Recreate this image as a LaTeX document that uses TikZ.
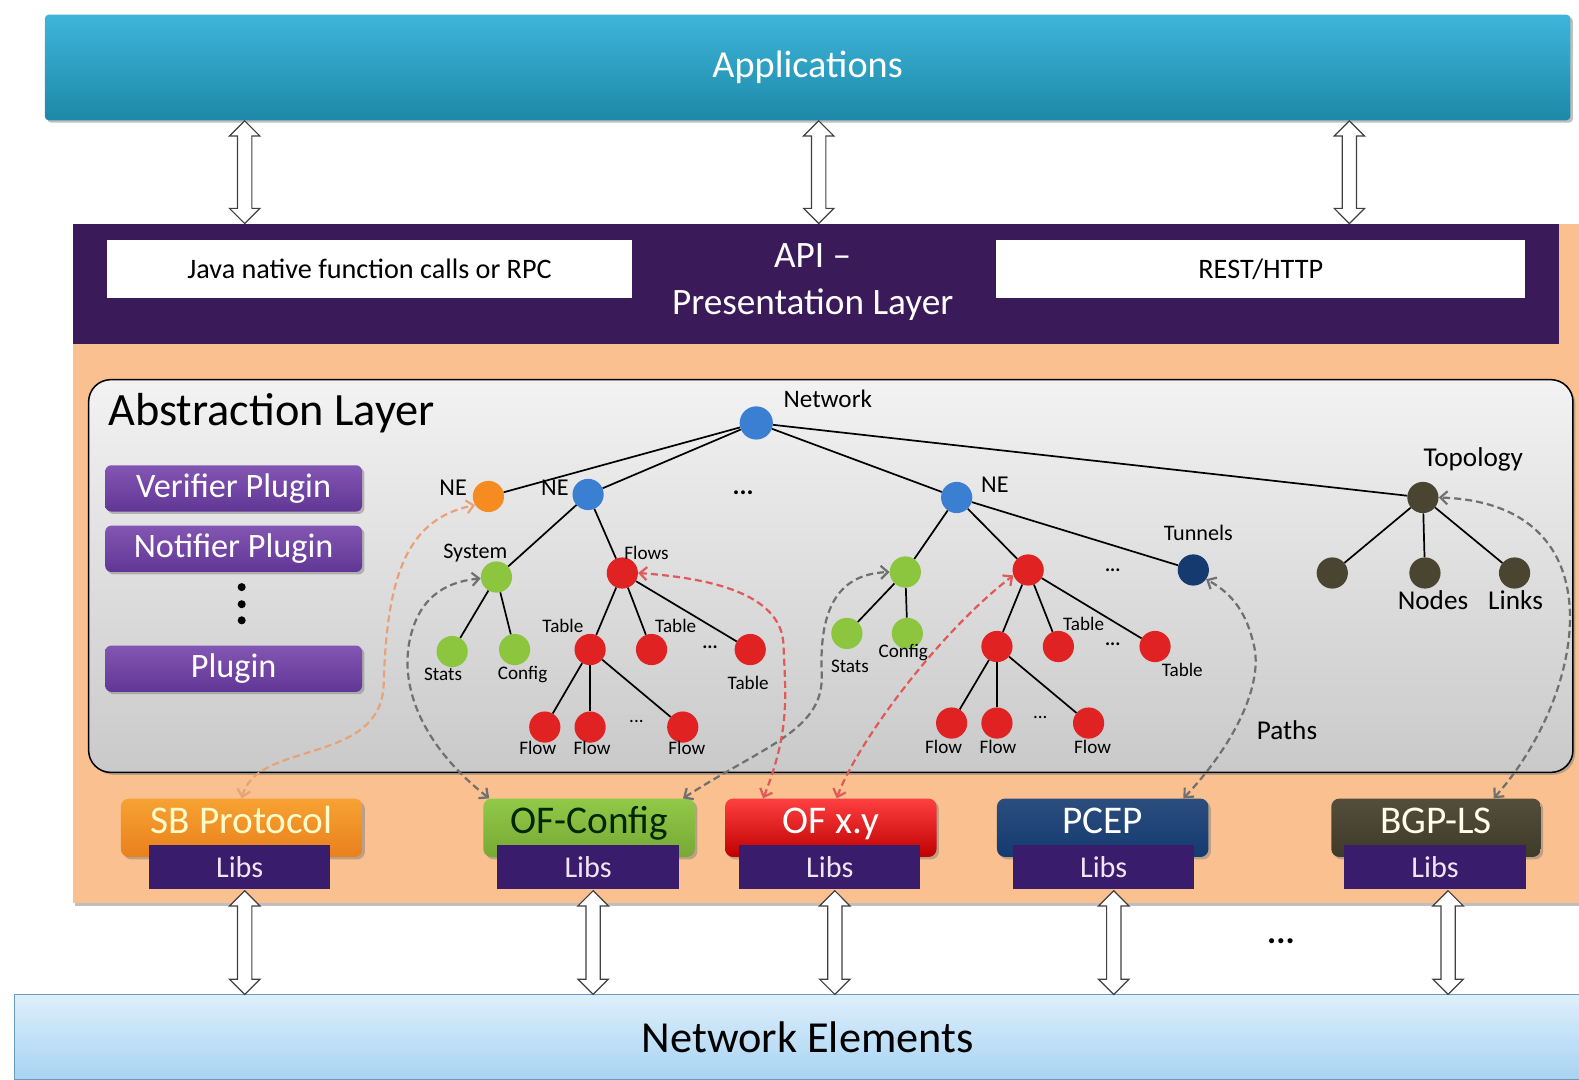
\documentclass[tikz,border=0pt]{standalone}
\usepackage{fontspec}
\setmainfont{Carlito}
\usetikzlibrary{shapes.arrows,shadows,arrows.meta}

\definecolor{appsTop}{HTML}{3DB6DA}
\definecolor{appsBot}{HTML}{1E88A8}
\definecolor{apiPurple}{HTML}{3B1A5A}
\definecolor{peach}{HTML}{FAC08F}
\definecolor{libPurple}{HTML}{3A1C6C}
\definecolor{plugTop}{HTML}{8456B4}
\definecolor{plugBot}{HTML}{603694}
\definecolor{neBlue}{HTML}{3A7FD2}
\definecolor{neOrange}{HTML}{F68B22}
\definecolor{sysGreen}{HTML}{8CC63E}
\definecolor{flowRed}{HTML}{E02222}
\definecolor{tunBlue}{HTML}{143A70}
\definecolor{topoDark}{HTML}{4A4530}
\definecolor{elemTop}{HTML}{DDEFFC}
\definecolor{elemBot}{HTML}{A8D3F3}
\definecolor{elemLine}{HTML}{6A9BBF}
\definecolor{linkGray}{HTML}{707070}
\definecolor{linkRed}{HTML}{E05A5A}
\definecolor{linkOrange}{HTML}{E8A27A}
\definecolor{sbTop}{HTML}{F7A233}
\definecolor{sbBot}{HTML}{E9801C}

\begin{document}
\begin{tikzpicture}[x=1pt,y=-1pt,
        lbl/.style={font=\fontsize{19}{20}\selectfont,inner sep=0pt},
        biglbl/.style={font=\fontsize{24}{24}\selectfont,inner sep=0pt},
        dot/.style={circle,minimum size=31pt,inner sep=0pt},
        edge/.style={line width=1.7pt},
        dbl/.style={double arrow,draw=black!75,line width=1.2pt,fill=white,
            rotate=90,inner sep=0pt,text height=13pt,text depth=0pt,
            double arrow head extend=8pt},
        plug/.style={rounded corners=6pt,top color=plugTop,bottom color=plugBot,
            minimum width=255pt,minimum height=46pt,text=white,
            font=\fontsize{34}{34}\selectfont,drop shadow},
        proto/.style={rounded corners=8pt,minimum height=58pt,
            text height=26pt,text depth=14pt,
            font=\fontsize{39}{39}\selectfont,drop shadow},
        libs/.style={fill=libPurple,minimum width=180pt,minimum height=44pt,
            text=white!90!violet,font=\fontsize{30}{30}\selectfont},
        link/.style={line width=2.2pt,dash pattern=on 7pt off 4pt,<->,
            >={Straight Barb[length=7pt,width=13pt]}}]
\useasboundingbox (0,0) rectangle (1568,1072);

% layers
\node[rounded corners=4pt,top color=appsTop,bottom color=appsBot,
    minimum width=1515pt,minimum height=105pt,drop shadow,text=white,
    font=\fontsize{38}{38}\selectfont] (app) at (802,67) {Applications};
\node[fill=peach,minimum width=1520pt,minimum height=675pt,drop shadow]
    (ctl) at (832,559.5) {};
\node[fill=apiPurple,minimum width=1476pt,minimum height=120pt] (api) at (810,282) {};
\node[fill=white,minimum width=522pt,minimum height=58pt,
    font=\fontsize{28}{28}\selectfont] (jni) at (367,267) {Java native function calls or RPC};
\node[fill=white,minimum width=525pt,minimum height=58pt,
    font=\fontsize{28}{28}\selectfont] (rest) at (1252,267) {REST/HTTP};
\node[text=white,align=center,font=\fontsize{37}{46}\selectfont]
    (apitxt) at (807,280) {API --\\Presentation Layer};
\node[top color=elemTop,bottom color=elemBot,draw=elemLine,line width=1pt,
    minimum width=1576pt,minimum height=84pt,font=\fontsize{44}{44}\selectfont]
    (elem) at (802,1030) {Network Elements};

% hollow arrows
\node[dbl,minimum height=102pt] (ua) at (243,171) {};
\node[dbl,minimum height=102pt] (ub) at (813,171) {};
\node[dbl,minimum height=102pt] (uc) at (1340,171) {};
\node[dbl,minimum height=103pt] (da) at (243,936) {};
\node[dbl,minimum height=103pt] (db) at (589,936) {};
\node[dbl,minimum height=103pt] (dc) at (829,936) {};
\node[dbl,minimum height=103pt] (dd) at (1106,936) {};
\node[dbl,minimum height=103pt] (de) at (1438,936) {};
\node[font=\bfseries\fontsize{34}{34}\selectfont] (more) at (1272,935) {...};

% abstraction layer
\node[draw=black,line width=1.5pt,rounded corners=22pt,top color=gray!10,
    bottom color=gray!42,minimum width=1474pt,minimum height=390pt,drop shadow]
    (abs) at (825,572) {};
\node[font=\fontsize{46}{46}\selectfont,anchor=west] (abstxt) at (104,410) {Abstraction Layer};
\node[plug] (verifier) at (232,485) {Verifier Plugin};
\node[plug] (notifier) at (232,545) {Notifier Plugin};
\node[plug] (plugin) at (232,664) {Plugin};
\fill (240,583) circle (4) (240,600) circle (4) (240,616) circle (4);

% tree
\node[dot,fill=neBlue,minimum size=33pt] (net) at (751,420) {};
\node[dot,fill=neOrange] (neA) at (485,493) {};
\node[dot,fill=neBlue] (neB) at (584,491) {};
\node[dot,fill=neBlue] (neC) at (950,494) {};
\node[dot,fill=topoDark] (topo) at (1413,494) {};
\node[dot,fill=sysGreen] (sys) at (493,573) {};
\node[dot,fill=flowRed] (flows) at (618,569) {};
\node[dot,fill=sysGreen] (stats) at (449,647) {};
\node[dot,fill=sysGreen] (cfg) at (511,645) {};
\node[dot,fill=flowRed] (tbl) at (586,645) {};
\node[dot,fill=flowRed] (tblB) at (647,645) {};
\node[dot,fill=flowRed] (tblC) at (745,645) {};
\node[dot,fill=flowRed] (flowA) at (541,722) {};
\node[dot,fill=flowRed] (flowB) at (586,722) {};
\node[dot,fill=flowRed] (flowC) at (678,722) {};
\node[dot,fill=sysGreen] (sysR) at (899,568) {};
\node[dot,fill=sysGreen] (statsR) at (841,629) {};
\node[dot,fill=sysGreen] (cfgR) at (901,629) {};
\node[dot,fill=flowRed] (flowsR) at (1021,566) {};
\node[dot,fill=flowRed] (tblR) at (990,642) {};
\node[dot,fill=flowRed] (tblRB) at (1051,642) {};
\node[dot,fill=flowRed] (tblRC) at (1147,642) {};
\node[dot,fill=flowRed] (flowRA) at (945,718) {};
\node[dot,fill=flowRed] (flowRB) at (990,718) {};
\node[dot,fill=flowRed] (flowRC) at (1081,718) {};
\node[dot,fill=tunBlue] (tun) at (1185,566) {};
\node[dot,fill=topoDark] (topoA) at (1323,569) {};
\node[dot,fill=topoDark] (nodes) at (1415,569) {};
\node[dot,fill=topoDark] (links) at (1504,569) {};

\draw[edge] (net) -- (neA);
\draw[edge] (net) -- (neB);
\draw[edge] (net) -- (neC);
\draw[edge] (net) -- (topo);
\draw[edge] (neB) -- (sys);
\draw[edge] (neB) -- (flows);
\draw[edge] (sys) -- (stats);
\draw[edge] (sys) -- (cfg);
\draw[edge] (flows) -- (tbl);
\draw[edge] (flows) -- (tblB);
\draw[edge] (flows) -- (tblC);
\draw[edge] (tbl) -- (flowA);
\draw[edge] (tbl) -- (flowB);
\draw[edge] (tbl) -- (flowC);
\draw[edge] (neC) -- (sysR);
\draw[edge] (neC) -- (flowsR);
\draw[edge] (neC) -- (tun);
\draw[edge] (sysR) -- (statsR);
\draw[edge] (sysR) -- (cfgR);
\draw[edge] (flowsR) -- (tblR);
\draw[edge] (flowsR) -- (tblRB);
\draw[edge] (flowsR) -- (tblRC);
\draw[edge] (tblR) -- (flowRA);
\draw[edge] (tblR) -- (flowRB);
\draw[edge] (tblR) -- (flowRC);
\draw[edge] (topo) -- (topoA);
\draw[edge] (topo) -- (nodes);
\draw[edge] (topo) -- (links);

% tree labels
\node[biglbl,font=\fontsize{25}{25}\selectfont] (lnet) at (822,396) {Network};
\node[biglbl] (lneA) at (450,484) {NE};
\node[biglbl] (lneB) at (551,484) {NE};
\node[biglbl] (lneC) at (988,481) {NE};
\node[biglbl,font=\fontsize{27}{27}\selectfont] (ltopo) at (1463,456) {Topology};
\node[lbl,font=\bfseries\fontsize{26}{26}\selectfont] (ldots) at (738,489) {...};
\node[lbl,font=\fontsize{22}{22}\selectfont] (lsys) at (472,549) {System};
\node[lbl] (lflows) at (642,549) {Flows};
\node[lbl] (lstats) at (440,670) {Stats};
\node[lbl] (lcfg) at (519,670) {Config};
\node[lbl] (ltbl) at (559,622) {Table};
\node[lbl] (ltblB) at (671,622) {Table};
\node[lbl] (ltblC) at (743,678) {Table};
\node[lbl,font=\bfseries\fontsize{19}{20}\selectfont] (ltdots) at (705,643) {...};
\node[lbl] (lflowA) at (534,743) {Flow};
\node[lbl] (lflowB) at (588,743) {Flow};
\node[lbl] (lflowC) at (682,743) {Flow};
\node[lbl] (lfdots) at (632,716) {...};
\node[lbl] (lstatsR) at (844,662) {Stats};
\node[lbl] (lcfgR) at (897,648) {Config};
\node[lbl] (ltblRB) at (1076,620) {Table};
\node[lbl] (ltblRC) at (1174,665) {Table};
\node[lbl,font=\bfseries\fontsize{19}{20}\selectfont] (lrdots) at (1105,566) {...};
\node[lbl,font=\bfseries\fontsize{19}{20}\selectfont] (lrtdots) at (1105,640) {...};
\node[lbl] (lflowRA) at (937,742) {Flow};
\node[lbl] (lflowRB) at (991,742) {Flow};
\node[lbl] (lflowRC) at (1085,742) {Flow};
\node[lbl] (lrfdots) at (1033,712) {...};
\node[lbl,font=\fontsize{22}{22}\selectfont] (ltun) at (1190,529) {Tunnels};
\node[biglbl,font=\fontsize{27}{27}\selectfont] (lnodes) at (1423,596) {Nodes};
\node[biglbl,font=\fontsize{27}{27}\selectfont] (llinks) at (1505,596) {Links};
\node[biglbl,font=\fontsize{27}{27}\selectfont] (lpaths) at (1278,725) {Paths};

% southbound plugins
\node[proto,minimum width=240pt,top color=sbTop,bottom color=sbBot,
    text=yellow!20] (sb) at (240,822) {SB Protocol};
\node[libs] (sblibs) at (238,861) {Libs};
\node[proto,minimum width=210pt,top color=sysGreen!95!white,bottom color=sysGreen!85!black,
    text=black!85!green] (ofc) at (585,822) {OF-Config};
\node[libs] (ofclibs) at (584,861) {Libs};
\node[proto,minimum width=210pt,top color=red!75!white,bottom color=red!75!black,
    text=white] (ofxy) at (825,822) {OF x.y};
\node[libs] (ofxylibs) at (824,861) {Libs};
\node[proto,minimum width=210pt,top color=tunBlue!90!white,bottom color=tunBlue,
    text=white] (pcep) at (1095,822) {PCEP};
\node[libs] (pceplibs) at (1096,861) {Libs};
\node[proto,minimum width=208pt,top color=topoDark!95!white,bottom color=topoDark!85!black,
    text=yellow!10] (bgp) at (1426,822) {BGP-LS};
\node[libs] (bgplibs) at (1425,861) {Libs};

% dashed links
\draw[link,draw=linkOrange] (sb.north) .. controls (255,735) and (378,760) .. (381,680)
    .. controls (384,570) and (405,515) .. (neA.213);
\draw[link,draw=linkGray] ([xshift=6pt]ofc.north west) .. controls (425,745) and (398,690) .. (406,640)
    .. controls (414,595) and (440,578) .. (sys.185);
\draw[link,draw=linkGray] ([xshift=-12pt]ofc.north east) .. controls (760,740) and (818,725) .. (816,670)
    .. controls (813,600) and (835,570) .. (sysR.west);
\draw[link,draw=linkRed] ([xshift=38pt]ofxy.north west) .. controls (785,725) and (780,690) .. (778,640)
    .. controls (776,595) and (720,575) .. (flows.east);
\draw[link,draw=linkRed] ([xshift=111pt]ofxy.north west) .. controls (850,740) and (930,630) .. (flowsR.200);
\draw[link,draw=linkGray] ([xshift=-25pt]pcep.north east) .. controls (1225,740) and (1255,680) .. (1245,640)
    .. controls (1238,610) and (1225,590) .. (tun.-36);
\draw[link,draw=linkGray] ([xshift=-47pt]bgp.north east) .. controls (1575,690) and (1610,500) .. (topo.east);
\end{tikzpicture}
\end{document}
